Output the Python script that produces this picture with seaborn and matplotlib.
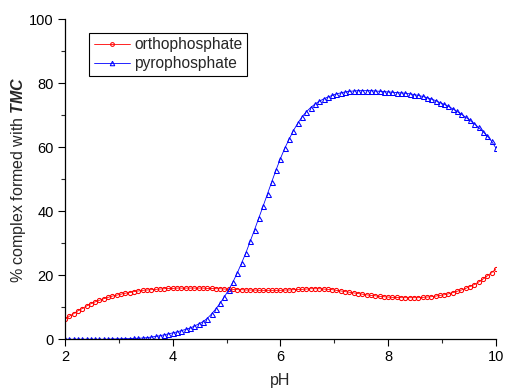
import numpy as np
import pandas as pd
import matplotlib
matplotlib.use("Agg")
import matplotlib.pyplot as plt
import seaborn as sns

# pH grid of the speciation calculation (step 0.08)
ph = np.round(np.linspace(2.0, 10.0, 101), 2)

ortho = [
    6.3, 7.2, 8.0, 8.9, 9.6, 10.4, 11.1, 11.7, 12.2, 12.7,
    13.1, 13.5, 13.8, 14.1, 14.4, 14.6, 14.9, 15.1, 15.3, 15.4,
    15.5, 15.6, 15.7, 15.8, 15.9, 15.9, 16.0, 16.0, 16.0, 16.0,
    16.0, 16.0, 16.0, 15.9, 15.9, 15.8, 15.8, 15.7, 15.7, 15.6,
    15.5, 15.5, 15.4, 15.4, 15.4, 15.3, 15.3, 15.3, 15.3, 15.3,
    15.3, 15.4, 15.4, 15.5, 15.6, 15.6, 15.7, 15.8, 15.8, 15.8,
    15.7, 15.6, 15.5, 15.3, 15.1, 14.9, 14.7, 14.5, 14.3, 14.1,
    13.9, 13.7, 13.6, 13.4, 13.3, 13.2, 13.1, 13.1, 13.0, 13.0,
    13.0, 13.0, 13.0, 13.1, 13.2, 13.3, 13.5, 13.7, 13.9, 14.2,
    14.6, 15.0, 15.4, 15.9, 16.5, 17.1, 17.9, 18.8, 19.8, 20.8,
    22.0,
]

pyro = [
    0.0, 0.0, 0.0, 0.0, 0.0, 0.0, 0.0, 0.0, 0.0, 0.0,
    0.0, 0.1, 0.1, 0.1, 0.2, 0.2, 0.3, 0.3, 0.4, 0.5,
    0.7, 0.9, 1.1, 1.4, 1.7, 2.0, 2.3, 2.7, 3.1, 3.5,
    4.1, 4.8, 5.5, 6.5, 7.9, 9.5, 11.3, 13.3, 15.5, 18.0,
    20.8, 23.9, 27.1, 30.7, 34.3, 38.0, 41.7, 45.5, 49.3, 53.0,
    56.5, 59.7, 62.5, 65.2, 67.5, 69.5, 71.1, 72.4, 73.5, 74.4,
    75.1, 75.7, 76.2, 76.7, 77.0, 77.3, 77.5, 77.6, 77.7, 77.7,
    77.7, 77.7, 77.6, 77.5, 77.4, 77.3, 77.2, 77.1, 77.0, 76.9,
    76.7, 76.5, 76.2, 75.9, 75.5, 75.1, 74.6, 74.0, 73.4, 72.8,
    72.0, 71.2, 70.3, 69.4, 68.4, 67.3, 66.2, 64.9, 63.5, 61.9,
    59.8,
]

x_ticks = [2, 4, 6, 8, 10]
y_ticks = [0, 20, 40, 60, 80, 100]

sns.set_style("ticks")
plt.rcParams["font.family"] = ["Liberation Sans", "DejaVu Sans"]
plt.rcParams["mathtext.fontset"] = "custom"
plt.rcParams["mathtext.bfit"] = "Liberation Sans:italic:bold"
plt.rcParams["mathtext.rm"] = "Liberation Sans"

df = pd.DataFrame({"pH": ph, "orthophosphate": ortho, "pyrophosphate": pyro})

fig = plt.figure(figsize=(5.06, 3.90), dpi=100)
ax = fig.add_axes([0.1285, 0.130, 0.8515, 0.8205])

sns.lineplot(data=df, x="pH", y="orthophosphate", ax=ax, color="#ff0000",
             lw=0.6, marker="o", markersize=3.0, markerfacecolor="none",
             markeredgecolor="#ff0000", markeredgewidth=0.75,
             label="orthophosphate")
sns.lineplot(data=df, x="pH", y="pyrophosphate", ax=ax, color="#0000ff",
             lw=0.6, marker="^", markersize=3.6, markerfacecolor="none",
             markeredgecolor="#0000ff", markeredgewidth=0.75,
             label="pyrophosphate")

ax.set_xlim(2, 10)
ax.set_ylim(0, 100)
ax.set_xticks(x_ticks)
ax.set_yticks(y_ticks)
ax.set_xticks([3, 5, 7, 9], minor=True)
ax.set_yticks([10, 30, 50, 70, 90], minor=True)
ax.tick_params(which="major", direction="out", length=5, width=0.8,
               labelsize=10.5, colors="black", pad=3)
ax.tick_params(which="minor", direction="out", length=3, width=0.8)
for side in ("top", "right"):
    ax.spines[side].set_visible(False)
for side in ("left", "bottom"):
    ax.spines[side].set_linewidth(0.9)
    ax.spines[side].set_color("black")

ax.set_xlabel("pH", fontsize=11.5, labelpad=6)
ax.set_ylabel(r"% complex formed with $\mathbfit{TMC}$", fontsize=11.5,
              labelpad=1)

leg = ax.legend(loc="upper left", bbox_to_anchor=(0.056, 0.958),
                fontsize=11.2, frameon=True, fancybox=False, framealpha=1,
                edgecolor="black", borderpad=0.3, handlelength=2.3,
                handletextpad=0.3, labelspacing=0.25, borderaxespad=0,
                markerscale=0.9)
leg.get_frame().set_linewidth(0.8)

fig.savefig("out.png", dpi=100)
